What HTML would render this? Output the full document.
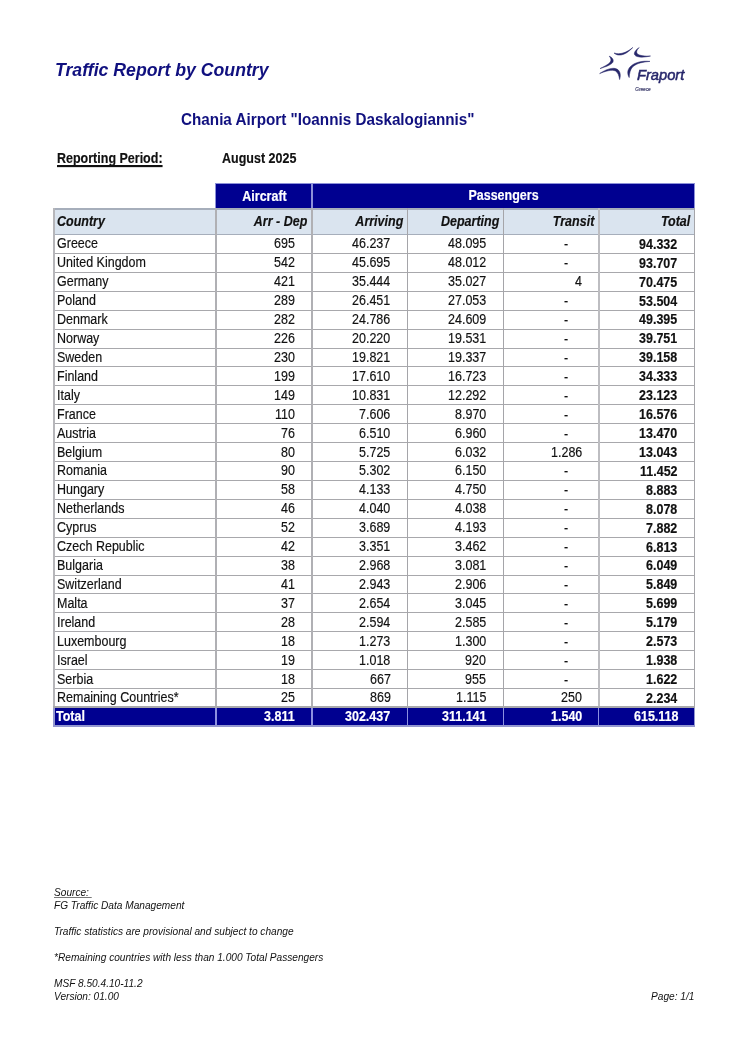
<!DOCTYPE html>
<html><head><meta charset="utf-8"><title>Traffic Report by Country</title>
<style>
html,body{margin:0;padding:0;background:#fff;}
body{width:750px;height:1062px;position:relative;overflow:hidden;font-family:"Liberation Sans",sans-serif;color:#111;}
.a{position:absolute;white-space:nowrap;line-height:1;will-change:transform;}
.t{font-size:12.5px;-webkit-text-stroke:0.15px currentColor;transform:scaleY(1.1);transform-origin:0 2px;}
.r{text-align:right;}
.b{font-weight:bold;}
.i{font-style:italic;}
.ln{position:absolute;background:#a8a8ac;}
.f{font-size:10.15px;font-style:italic;color:#111;}
</style></head><body>

<div class="a b i" style="left:55px;top:62px;font-size:17.7px;color:#10107f;">Traffic Report by Country</div>
<div class="a b" style="left:181px;top:111px;font-size:15.25px;transform:scaleY(1.06);transform-origin:0 2px;color:#10107f;">Chania Airport "Ioannis Daskalogiannis"</div>
<div class="a b t" style="left:57px;top:152.3px;text-decoration:underline;text-decoration-thickness:1.6px;text-underline-offset:2px;text-decoration-skip-ink:none;">Reporting Period:</div>
<div class="a b t" style="left:222px;top:152.3px;">August 2025</div>
<svg class="a" style="left:590px;top:40px;" width="110" height="60" viewBox="590 40 110 60">
<g fill="#27276b" stroke="#27276b" stroke-width="0.5" stroke-linejoin="round">
<path d="M614,53 C617,56 624,57 632.8,47.5 C627,52.5 620,55 614,53 Z"/>
<path d="M639.2,47.6 C634,51 632.5,55 637,56.5 C641,57.8 646,57 650.5,56 C645,56.3 640,55.8 637.5,54 C636,52.5 636.5,50 639.2,47.6 Z"/>
<path d="M609.2,56.2 C613,57.5 614.5,61 612,63.3 C609.5,65.5 605,67 600,68.6 C604,66.5 608.5,64.5 610.3,62 C611.5,60 611,58 609.2,56.2 Z"/>
<path d="M599.6,73.6 C605,70 611,67.5 615.5,68.5 C619.5,69.5 621.5,74 619.6,79.6 C619,75.5 618,72.5 615.5,71 C612,69.3 606,71 599.6,73.6 Z"/>
<path d="M650,61.4 C642,60.5 634,62.5 630,67 C627,70.5 627.3,74 629.2,77.6 C629.5,73.5 630,69.5 633,66.5 C637,63 643,62 650,61.4 Z"/>
</g>
<text x="637" y="80" font-family="Liberation Sans" font-style="italic" font-size="14.7" fill="#27276b" stroke="#27276b" stroke-width="0.5">Fraport</text>
<text x="635.3" y="90.9" font-family="Liberation Sans" font-style="italic" font-size="4.7" fill="#3a3a6a" stroke="#3a3a6a" stroke-width="0.15">Greece</text>
</svg>
<div class="ln" style="left:215px;top:183px;width:480px;height:26px;background:#8c90d8;"></div>
<div class="ln" style="left:216px;top:184px;width:95px;height:24px;background:#000090;"></div>
<div class="ln" style="left:313px;top:184px;width:381px;height:24px;background:#000090;"></div>
<div class="a b t" style="left:217px;width:95px;top:189.9px;text-align:center;color:#fff;">Aircraft</div>
<div class="a b t" style="left:313px;width:381px;top:189.3px;text-align:center;color:#fff;">Passengers</div>
<div class="ln" style="left:53px;top:208px;width:642px;height:27px;background:#a6aebb;"></div>
<div class="ln" style="left:55px;top:210px;width:639px;height:24px;background:#dae4ef;"></div>
<div class="ln" style="left:55px;top:235px;width:639px;height:472px;background:#fff;"></div>
<div class="ln" style="left:53px;top:253px;width:642px;height:1px;"></div>
<div class="ln" style="left:53px;top:272px;width:642px;height:1px;"></div>
<div class="ln" style="left:53px;top:291px;width:642px;height:1px;"></div>
<div class="ln" style="left:53px;top:310px;width:642px;height:1px;"></div>
<div class="ln" style="left:53px;top:329px;width:642px;height:1px;"></div>
<div class="ln" style="left:53px;top:348px;width:642px;height:1px;"></div>
<div class="ln" style="left:53px;top:366px;width:642px;height:1px;"></div>
<div class="ln" style="left:53px;top:385px;width:642px;height:1px;"></div>
<div class="ln" style="left:53px;top:404px;width:642px;height:1px;"></div>
<div class="ln" style="left:53px;top:423px;width:642px;height:1px;"></div>
<div class="ln" style="left:53px;top:442px;width:642px;height:1px;"></div>
<div class="ln" style="left:53px;top:461px;width:642px;height:1px;"></div>
<div class="ln" style="left:53px;top:480px;width:642px;height:1px;"></div>
<div class="ln" style="left:53px;top:499px;width:642px;height:1px;"></div>
<div class="ln" style="left:53px;top:518px;width:642px;height:1px;"></div>
<div class="ln" style="left:53px;top:537px;width:642px;height:1px;"></div>
<div class="ln" style="left:53px;top:556px;width:642px;height:1px;"></div>
<div class="ln" style="left:53px;top:575px;width:642px;height:1px;"></div>
<div class="ln" style="left:53px;top:593px;width:642px;height:1px;"></div>
<div class="ln" style="left:53px;top:612px;width:642px;height:1px;"></div>
<div class="ln" style="left:53px;top:631px;width:642px;height:1px;"></div>
<div class="ln" style="left:53px;top:650px;width:642px;height:1px;"></div>
<div class="ln" style="left:53px;top:669px;width:642px;height:1px;"></div>
<div class="ln" style="left:53px;top:688px;width:642px;height:1px;"></div>
<div class="ln" style="left:53px;top:208px;width:2px;height:499px;background:#b6b6ba;"></div>
<div class="ln" style="left:215px;top:208px;width:2px;height:499px;background:#b0b0b4;"></div>
<div class="ln" style="left:311px;top:208px;width:2px;height:499px;background:#b0b0b4;"></div>
<div class="ln" style="left:407px;top:208px;width:1px;height:499px;background:#a5a5a9;"></div>
<div class="ln" style="left:503px;top:208px;width:1px;height:499px;background:#a5a5a9;"></div>
<div class="ln" style="left:598px;top:208px;width:2px;height:499px;background:#bdbdc1;"></div>
<div class="ln" style="left:694px;top:208px;width:1px;height:499px;background:#a5a5a9;"></div>
<div class="a b i t" style="left:57px;top:215px;">Country</div>
<div class="a b i t r" style="left:217px;width:90.3px;top:215px;">Arr - Dep</div>
<div class="a b i t r" style="left:313px;width:90.3px;top:215px;">Arriving</div>
<div class="a b i t r" style="left:409px;width:90.3px;top:215px;">Departing</div>
<div class="a b i t r" style="left:505px;width:89.3px;top:215px;">Transit</div>
<div class="a b i t r" style="left:600px;width:90.3px;top:215px;">Total</div>
<div class="a t" style="left:57px;top:237.40px;">Greece</div>
<div class="a t r" style="right:455.0px;top:237.40px;">695</div>
<div class="a t r" style="right:359.5px;top:237.40px;">46.237</div>
<div class="a t r" style="right:264.0px;top:237.40px;">48.095</div>
<div class="a t r" style="right:182.0px;top:238.40px;">-</div>
<div class="a t r b" style="right:72.5px;top:237.80px;">94.332</div>
<div class="a t" style="left:57px;top:256.32px;">United Kingdom</div>
<div class="a t r" style="right:455.0px;top:256.32px;">542</div>
<div class="a t r" style="right:359.5px;top:256.32px;">45.695</div>
<div class="a t r" style="right:264.0px;top:256.32px;">48.012</div>
<div class="a t r" style="right:182.0px;top:257.32px;">-</div>
<div class="a t r b" style="right:72.5px;top:256.72px;">93.707</div>
<div class="a t" style="left:57px;top:275.24px;">Germany</div>
<div class="a t r" style="right:455.0px;top:275.24px;">421</div>
<div class="a t r" style="right:359.5px;top:275.24px;">35.444</div>
<div class="a t r" style="right:264.0px;top:275.24px;">35.027</div>
<div class="a t r" style="right:168.0px;top:275.24px;">4</div>
<div class="a t r b" style="right:72.5px;top:275.64px;">70.475</div>
<div class="a t" style="left:57px;top:294.16px;">Poland</div>
<div class="a t r" style="right:455.0px;top:294.16px;">289</div>
<div class="a t r" style="right:359.5px;top:294.16px;">26.451</div>
<div class="a t r" style="right:264.0px;top:294.16px;">27.053</div>
<div class="a t r" style="right:182.0px;top:295.16px;">-</div>
<div class="a t r b" style="right:72.5px;top:294.56px;">53.504</div>
<div class="a t" style="left:57px;top:313.08px;">Denmark</div>
<div class="a t r" style="right:455.0px;top:313.08px;">282</div>
<div class="a t r" style="right:359.5px;top:313.08px;">24.786</div>
<div class="a t r" style="right:264.0px;top:313.08px;">24.609</div>
<div class="a t r" style="right:182.0px;top:314.08px;">-</div>
<div class="a t r b" style="right:72.5px;top:313.48px;">49.395</div>
<div class="a t" style="left:57px;top:332.00px;">Norway</div>
<div class="a t r" style="right:455.0px;top:332.00px;">226</div>
<div class="a t r" style="right:359.5px;top:332.00px;">20.220</div>
<div class="a t r" style="right:264.0px;top:332.00px;">19.531</div>
<div class="a t r" style="right:182.0px;top:333.00px;">-</div>
<div class="a t r b" style="right:72.5px;top:332.40px;">39.751</div>
<div class="a t" style="left:57px;top:350.92px;">Sweden</div>
<div class="a t r" style="right:455.0px;top:350.92px;">230</div>
<div class="a t r" style="right:359.5px;top:350.92px;">19.821</div>
<div class="a t r" style="right:264.0px;top:350.92px;">19.337</div>
<div class="a t r" style="right:182.0px;top:351.92px;">-</div>
<div class="a t r b" style="right:72.5px;top:351.32px;">39.158</div>
<div class="a t" style="left:57px;top:369.84px;">Finland</div>
<div class="a t r" style="right:455.0px;top:369.84px;">199</div>
<div class="a t r" style="right:359.5px;top:369.84px;">17.610</div>
<div class="a t r" style="right:264.0px;top:369.84px;">16.723</div>
<div class="a t r" style="right:182.0px;top:370.84px;">-</div>
<div class="a t r b" style="right:72.5px;top:370.24px;">34.333</div>
<div class="a t" style="left:57px;top:388.76px;">Italy</div>
<div class="a t r" style="right:455.0px;top:388.76px;">149</div>
<div class="a t r" style="right:359.5px;top:388.76px;">10.831</div>
<div class="a t r" style="right:264.0px;top:388.76px;">12.292</div>
<div class="a t r" style="right:182.0px;top:389.76px;">-</div>
<div class="a t r b" style="right:72.5px;top:389.16px;">23.123</div>
<div class="a t" style="left:57px;top:407.68px;">France</div>
<div class="a t r" style="right:455.0px;top:407.68px;">110</div>
<div class="a t r" style="right:359.5px;top:407.68px;">7.606</div>
<div class="a t r" style="right:264.0px;top:407.68px;">8.970</div>
<div class="a t r" style="right:182.0px;top:408.68px;">-</div>
<div class="a t r b" style="right:72.5px;top:408.08px;">16.576</div>
<div class="a t" style="left:57px;top:426.60px;">Austria</div>
<div class="a t r" style="right:455.0px;top:426.60px;">76</div>
<div class="a t r" style="right:359.5px;top:426.60px;">6.510</div>
<div class="a t r" style="right:264.0px;top:426.60px;">6.960</div>
<div class="a t r" style="right:182.0px;top:427.60px;">-</div>
<div class="a t r b" style="right:72.5px;top:427.00px;">13.470</div>
<div class="a t" style="left:57px;top:445.52px;">Belgium</div>
<div class="a t r" style="right:455.0px;top:445.52px;">80</div>
<div class="a t r" style="right:359.5px;top:445.52px;">5.725</div>
<div class="a t r" style="right:264.0px;top:445.52px;">6.032</div>
<div class="a t r" style="right:168.0px;top:445.52px;">1.286</div>
<div class="a t r b" style="right:72.5px;top:445.92px;">13.043</div>
<div class="a t" style="left:57px;top:464.44px;">Romania</div>
<div class="a t r" style="right:455.0px;top:464.44px;">90</div>
<div class="a t r" style="right:359.5px;top:464.44px;">5.302</div>
<div class="a t r" style="right:264.0px;top:464.44px;">6.150</div>
<div class="a t r" style="right:182.0px;top:465.44px;">-</div>
<div class="a t r b" style="right:72.5px;top:464.84px;">11.452</div>
<div class="a t" style="left:57px;top:483.36px;">Hungary</div>
<div class="a t r" style="right:455.0px;top:483.36px;">58</div>
<div class="a t r" style="right:359.5px;top:483.36px;">4.133</div>
<div class="a t r" style="right:264.0px;top:483.36px;">4.750</div>
<div class="a t r" style="right:182.0px;top:484.36px;">-</div>
<div class="a t r b" style="right:72.5px;top:483.76px;">8.883</div>
<div class="a t" style="left:57px;top:502.28px;">Netherlands</div>
<div class="a t r" style="right:455.0px;top:502.28px;">46</div>
<div class="a t r" style="right:359.5px;top:502.28px;">4.040</div>
<div class="a t r" style="right:264.0px;top:502.28px;">4.038</div>
<div class="a t r" style="right:182.0px;top:503.28px;">-</div>
<div class="a t r b" style="right:72.5px;top:502.68px;">8.078</div>
<div class="a t" style="left:57px;top:521.20px;">Cyprus</div>
<div class="a t r" style="right:455.0px;top:521.20px;">52</div>
<div class="a t r" style="right:359.5px;top:521.20px;">3.689</div>
<div class="a t r" style="right:264.0px;top:521.20px;">4.193</div>
<div class="a t r" style="right:182.0px;top:522.20px;">-</div>
<div class="a t r b" style="right:72.5px;top:521.60px;">7.882</div>
<div class="a t" style="left:57px;top:540.12px;">Czech Republic</div>
<div class="a t r" style="right:455.0px;top:540.12px;">42</div>
<div class="a t r" style="right:359.5px;top:540.12px;">3.351</div>
<div class="a t r" style="right:264.0px;top:540.12px;">3.462</div>
<div class="a t r" style="right:182.0px;top:541.12px;">-</div>
<div class="a t r b" style="right:72.5px;top:540.52px;">6.813</div>
<div class="a t" style="left:57px;top:559.04px;">Bulgaria</div>
<div class="a t r" style="right:455.0px;top:559.04px;">38</div>
<div class="a t r" style="right:359.5px;top:559.04px;">2.968</div>
<div class="a t r" style="right:264.0px;top:559.04px;">3.081</div>
<div class="a t r" style="right:182.0px;top:560.04px;">-</div>
<div class="a t r b" style="right:72.5px;top:559.44px;">6.049</div>
<div class="a t" style="left:57px;top:577.96px;">Switzerland</div>
<div class="a t r" style="right:455.0px;top:577.96px;">41</div>
<div class="a t r" style="right:359.5px;top:577.96px;">2.943</div>
<div class="a t r" style="right:264.0px;top:577.96px;">2.906</div>
<div class="a t r" style="right:182.0px;top:578.96px;">-</div>
<div class="a t r b" style="right:72.5px;top:578.36px;">5.849</div>
<div class="a t" style="left:57px;top:596.88px;">Malta</div>
<div class="a t r" style="right:455.0px;top:596.88px;">37</div>
<div class="a t r" style="right:359.5px;top:596.88px;">2.654</div>
<div class="a t r" style="right:264.0px;top:596.88px;">3.045</div>
<div class="a t r" style="right:182.0px;top:597.88px;">-</div>
<div class="a t r b" style="right:72.5px;top:597.28px;">5.699</div>
<div class="a t" style="left:57px;top:615.80px;">Ireland</div>
<div class="a t r" style="right:455.0px;top:615.80px;">28</div>
<div class="a t r" style="right:359.5px;top:615.80px;">2.594</div>
<div class="a t r" style="right:264.0px;top:615.80px;">2.585</div>
<div class="a t r" style="right:182.0px;top:616.80px;">-</div>
<div class="a t r b" style="right:72.5px;top:616.20px;">5.179</div>
<div class="a t" style="left:57px;top:634.72px;">Luxembourg</div>
<div class="a t r" style="right:455.0px;top:634.72px;">18</div>
<div class="a t r" style="right:359.5px;top:634.72px;">1.273</div>
<div class="a t r" style="right:264.0px;top:634.72px;">1.300</div>
<div class="a t r" style="right:182.0px;top:635.72px;">-</div>
<div class="a t r b" style="right:72.5px;top:635.12px;">2.573</div>
<div class="a t" style="left:57px;top:653.64px;">Israel</div>
<div class="a t r" style="right:455.0px;top:653.64px;">19</div>
<div class="a t r" style="right:359.5px;top:653.64px;">1.018</div>
<div class="a t r" style="right:264.0px;top:653.64px;">920</div>
<div class="a t r" style="right:182.0px;top:654.64px;">-</div>
<div class="a t r b" style="right:72.5px;top:654.04px;">1.938</div>
<div class="a t" style="left:57px;top:672.56px;">Serbia</div>
<div class="a t r" style="right:455.0px;top:672.56px;">18</div>
<div class="a t r" style="right:359.5px;top:672.56px;">667</div>
<div class="a t r" style="right:264.0px;top:672.56px;">955</div>
<div class="a t r" style="right:182.0px;top:673.56px;">-</div>
<div class="a t r b" style="right:72.5px;top:672.96px;">1.622</div>
<div class="a t" style="left:57px;top:691.48px;">Remaining Countries*</div>
<div class="a t r" style="right:455.0px;top:691.48px;">25</div>
<div class="a t r" style="right:359.5px;top:691.48px;">869</div>
<div class="a t r" style="right:264.0px;top:691.48px;">1.115</div>
<div class="a t r" style="right:168.0px;top:691.48px;">250</div>
<div class="a t r b" style="right:72.5px;top:691.88px;">2.234</div>
<div class="ln" style="left:53px;top:706px;width:642px;height:2px;"></div>
<div class="ln" style="left:53px;top:708px;width:642px;height:19px;background:#9296cf;"></div>
<div class="ln" style="left:55px;top:708px;width:639px;height:17px;background:#000090;"></div>
<div class="ln" style="left:215px;top:708px;width:2px;height:17px;background:#8c90e0;"></div>
<div class="ln" style="left:311px;top:708px;width:2px;height:17px;background:#8c90e0;"></div>
<div class="ln" style="left:407px;top:708px;width:1px;height:17px;background:#8c90e0;"></div>
<div class="ln" style="left:503px;top:708px;width:1px;height:17px;background:#8c90e0;"></div>
<div class="ln" style="left:598px;top:708px;width:1px;height:17px;background:#8c90e0;"></div>
<div class="a t b" style="left:56px;top:710.20px;color:#fff;">Total</div>
<div class="a t r b" style="right:455.0px;top:710.20px;color:#fff;">3.811</div>
<div class="a t r b" style="right:359.5px;top:710.20px;color:#fff;">302.437</div>
<div class="a t r b" style="right:264.0px;top:710.20px;color:#fff;">311.141</div>
<div class="a t r b" style="right:168.0px;top:710.20px;color:#fff;">1.540</div>
<div class="a t r b" style="right:71.8px;top:710.20px;color:#fff;">615.118</div>
<div class="a f" style="left:54px;top:887.5px;text-decoration:underline;text-decoration-skip-ink:none;text-decoration-color:#777;">Source:&nbsp;</div>
<div class="a f" style="left:54px;top:900.5px;">FG Traffic Data Management</div>
<div class="a f" style="left:54px;top:926.5px;">Traffic statistics are provisional and subject to change</div>
<div class="a f" style="left:54px;top:952.5px;">*Remaining countries with less than 1.000 Total Passengers</div>
<div class="a f" style="left:54px;top:978.5px;">MSF 8.50.4.10-11.2</div>
<div class="a f" style="left:54px;top:991.5px;">Version: 01.00</div>
<div class="a f" style="right:55.6px;top:991.5px;">Page: 1/1</div>
</body></html>
